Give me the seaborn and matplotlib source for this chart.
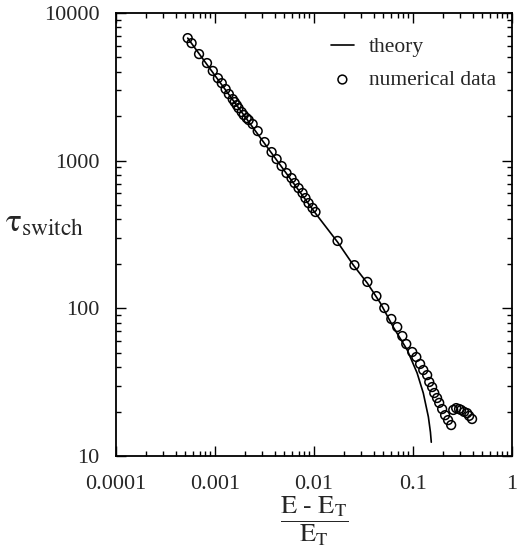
import numpy as np
import pandas as pd
import matplotlib
matplotlib.use("Agg")
import matplotlib.pyplot as plt
import matplotlib.ticker as mticker
import seaborn as sns

# numerical data
data_x = [0.00053, 0.00058, 0.00069, 0.00083, 0.00095, 0.00107, 0.00117, 0.00128,
          0.00138, 0.00151, 0.00158, 0.00166, 0.00173, 0.00186, 0.00195, 0.00209,
          0.00219, 0.00240, 0.00270, 0.00317, 0.00373, 0.00419, 0.00471, 0.00528,
          0.00593, 0.00637, 0.00698, 0.00766, 0.00820, 0.00881, 0.00966, 0.01035,
          0.0173, 0.0256, 0.0346, 0.0427, 0.0513, 0.0604, 0.0693, 0.0780, 0.0855,
          0.0982, 0.108, 0.118, 0.127, 0.139, 0.146, 0.156, 0.164, 0.175, 0.184,
          0.197, 0.211, 0.226, 0.243,
          0.255, 0.273, 0.292, 0.306, 0.328, 0.352, 0.369, 0.395]
data_y = [6760, 6250, 5270, 4580, 4050, 3620, 3350, 3055,
          2825, 2612, 2494, 2377, 2270, 2133, 2037, 1941,
          1884, 1770, 1586, 1336, 1143, 1025, 919, 824,
          762, 705, 652, 604, 558, 516, 478, 449,
          286, 196, 151, 121, 100.5, 84.7, 74.7, 64.9, 57.3,
          50.6, 46.8, 42.0, 38.2, 35.3, 31.7, 29.3, 26.7, 24.7, 22.9,
          20.8, 18.9, 17.5, 16.2,
          20.5, 21.1, 20.8, 20.5, 19.9, 19.5, 18.7, 17.8]

# theory curve
theory_x = [0.00053, 0.0103, 0.0173, 0.0250, 0.0346, 0.0468, 0.0632, 0.0875,
            0.110, 0.127, 0.143, 0.150, 0.153]
theory_y = [6760, 442, 281, 196, 148, 108.6, 74.7, 52.2,
            36.5, 26.7, 18.4, 14.5, 12.4]

sns.set_style("ticks")
plt.rcParams["font.family"] = ["Liberation Serif", "DejaVu Serif"]
plt.rcParams["mathtext.fontset"] = "stix"

fig = plt.figure(figsize=(5.18, 5.54), dpi=100)
ax = fig.add_axes([116 / 518, 1 - 456 / 554, 396 / 518, 443 / 554])

sns.lineplot(x=theory_x, y=theory_y, ax=ax, color="black", linewidth=1.2,
             sort=False, label="theory")
sns.scatterplot(x=data_x, y=data_y, ax=ax, marker="o", s=40,
                facecolor="none", edgecolor="black", linewidth=1.1,
                label="numerical data")

ax.set_xscale("log")
ax.set_yscale("log")
ax.set_xlim(0.0001, 1)
ax.set_ylim(10, 10000)

fmt = mticker.FuncFormatter(lambda v, p: f"{v:g}")
ax.xaxis.set_major_formatter(fmt)
ax.yaxis.set_major_formatter(fmt)
ax.xaxis.set_minor_formatter(mticker.NullFormatter())
ax.yaxis.set_minor_formatter(mticker.NullFormatter())

ax.tick_params(which="both", direction="in", top=True, right=True,
               color="black", width=1.0)
ax.tick_params(which="major", length=7)
ax.tick_params(which="minor", length=3.5)
ax.tick_params(axis="x", which="major", labelsize=16, pad=14)
ax.tick_params(axis="y", which="major", labelsize=16, pad=12)
for s in ax.spines.values():
    s.set_linewidth(1.3)
    s.set_color("black")

ax.set_xlabel(r"$\dfrac{\mathrm{E\ \text{-}\ E_T}}{\mathrm{E_T}}$", fontsize=19, labelpad=0)
ax.set_ylabel(r"$\mathrm{\tau}_{\mathrm{switch}}$", fontsize=24, rotation=0,
              va="center", ha="center")
ax.yaxis.set_label_coords(-0.18, 0.525)

leg = ax.legend(loc="upper left", bbox_to_anchor=(0.52, 0.965), frameon=False,
                fontsize=15.5, handlelength=1.1, handletextpad=0.7,
                labelspacing=0.6, borderaxespad=0)

fig.savefig("out.png", dpi=100)
